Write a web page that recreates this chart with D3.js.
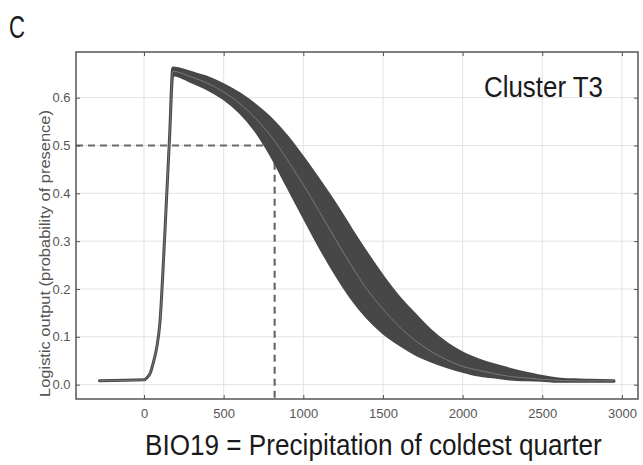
<!DOCTYPE html>
<html><head><meta charset="utf-8">
<script src="https://cdn.jsdelivr.net/npm/d3@7"></script>
<style>
html,body{margin:0;padding:0;background:#fff;}
svg{display:block;font-family:"Liberation Sans",Arial,sans-serif;}
</style></head>
<body><svg id="chart" width="643" height="465"></svg>
<script>
// ---- data ----
const xValues = [-280, 0, 20, 40, 60, 80, 100, 120, 140, 160, 181, 300, 400, 500, 600, 700, 800, 900, 1000, 1100, 1200, 1300, 1400, 1500, 1600, 1700, 1800, 1900, 2000, 2100, 2200, 2300, 2400, 2500, 2600, 2700, 2800, 2950];
const meanValues = [0.008, 0.01, 0.015, 0.025, 0.048, 0.078, 0.13, 0.245, 0.38, 0.515, 0.655, 0.643, 0.63, 0.612, 0.588, 0.557, 0.518, 0.47, 0.418, 0.362, 0.305, 0.25, 0.199, 0.158, 0.122, 0.093, 0.07, 0.052, 0.038, 0.03, 0.023, 0.017, 0.014, 0.011, 0.009, 0.008, 0.008, 0.008];
const upperValues = [0.008, 0.01, 0.015, 0.025, 0.048, 0.078, 0.13, 0.245, 0.38, 0.515, 0.662, 0.652, 0.642, 0.627, 0.608, 0.584, 0.555, 0.518, 0.474, 0.427, 0.378, 0.325, 0.274, 0.226, 0.183, 0.147, 0.113, 0.086, 0.066, 0.052, 0.041, 0.032, 0.024, 0.017, 0.012, 0.01, 0.009, 0.008];
const lowerValues = [0.008, 0.01, 0.015, 0.025, 0.048, 0.078, 0.13, 0.245, 0.38, 0.515, 0.648, 0.633, 0.618, 0.598, 0.57, 0.531, 0.478, 0.415, 0.352, 0.29, 0.233, 0.182, 0.141, 0.109, 0.085, 0.065, 0.05, 0.038, 0.028, 0.02, 0.016, 0.012, 0.01, 0.009, 0.007, 0.007, 0.007, 0.007];
const xTicks = [0, 500, 1000, 1500, 2000, 2500, 3000];
const yTicks = [0, 0.1, 0.2, 0.3, 0.4, 0.5, 0.6];
const thresholdX = 820;
const thresholdY = 0.5;
const panelLabel = "C";
const clusterLabel = "Cluster T3";
const xTitle = "BIO19 = Precipitation of coldest quarter";
const yTitle = "Logistic output (probability of presence)";

// ---- layout ----
const L = 76, R = 638, T = 52, B = 399;
const svg = d3.select("#chart");
const x = d3.scaleLinear().domain([-427, 3101]).range([L, R]);
const y = d3.scaleLinear().domain([-0.03, 0.6955]).range([B, T]);

const pts = xValues.map((v, i) => ({x: v, m: meanValues[i], u: upperValues[i], l: lowerValues[i]}));

// grid
const grid = svg.append("g").attr("stroke", "#e2e2e2").attr("stroke-width", 1);
grid.selectAll("line.v").data(xTicks).enter().append("line")
  .attr("x1", d => x(d)).attr("x2", d => x(d)).attr("y1", T).attr("y2", B);
grid.selectAll("line.h").data(yTicks).enter().append("line")
  .attr("y1", d => y(d)).attr("y2", d => y(d)).attr("x1", L).attr("x2", R);

// clip
svg.append("clipPath").attr("id", "clip").append("rect")
  .attr("x", L).attr("y", T).attr("width", R - L).attr("height", B - T);

const plot = svg.append("g").attr("clip-path", "url(#clip)");

// dashed threshold lines
plot.append("path")
  .attr("d", `M${L},${y(thresholdY)}H${x(thresholdX)}V${B}`)
  .attr("fill", "none").attr("stroke", "#6a6a6a").attr("stroke-width", 2.2)
  .attr("stroke-dasharray", "7,5");

// band
const area = d3.area().x(d => x(d.x)).y0(d => y(d.l)).y1(d => y(d.u)).curve(d3.curveMonotoneX);
plot.append("path").datum(pts).attr("d", area)
  .attr("fill", "#474747").attr("stroke", "#474747").attr("stroke-width", 3)
  .attr("stroke-linejoin", "round");

// mean line
const line = d3.line().x(d => x(d.x)).y(d => y(d.m)).curve(d3.curveMonotoneX);
plot.append("path").datum(pts).attr("d", line)
  .attr("fill", "none").attr("stroke", "#787878").attr("stroke-width", 1);

// axes
function styleAxis(g) {
  g.select(".domain").remove();
  g.selectAll(".tick line").attr("stroke", "#555");
  g.selectAll(".tick text").attr("fill", "#555").attr("font-size", "13px")
    .attr("font-family", "Liberation Sans, Arial, sans-serif");
}
svg.append("g").attr("transform", `translate(0,${B})`)
  .call(d3.axisBottom(x).tickValues(xTicks).tickSizeInner(-4).tickSizeOuter(0).tickPadding(10).tickFormat(d3.format("d")))
  .call(styleAxis);
svg.append("g").attr("transform", `translate(0,${T})`)
  .call(d3.axisTop(x).tickValues(xTicks).tickSizeInner(-4).tickSizeOuter(0).tickFormat(""))
  .call(styleAxis);
svg.append("g").attr("transform", `translate(${L},0)`)
  .call(d3.axisLeft(y).tickValues(yTicks).tickSizeInner(-4).tickSizeOuter(0).tickPadding(5.5).tickFormat(d3.format(".1f")))
  .call(styleAxis);
svg.append("g").attr("transform", `translate(${R},0)`)
  .call(d3.axisRight(y).tickValues(yTicks).tickSizeInner(-4).tickSizeOuter(0).tickFormat(""))
  .call(styleAxis);

// frame
svg.append("rect").attr("x", L).attr("y", T).attr("width", R - L).attr("height", B - T)
  .attr("fill", "none").attr("stroke", "#555").attr("stroke-width", 1.5);

// text fitted to a width by horizontal scaling (reference fonts look condensed)
function fittedText(str, px, py, size, width, color, rotate) {
  const t = svg.append("text").attr("font-size", size + "px").attr("fill", color).text(str);
  const natural = t.node().getComputedTextLength();
  const s = width / natural;
  if (rotate) {
    t.attr("text-anchor", "middle")
     .attr("transform", `translate(${px},${py}) rotate(-90) scale(${s},1)`);
  } else {
    t.attr("transform", `translate(${px},${py}) scale(${s},1)`);
  }
  return t;
}

fittedText(yTitle, 49.5, (110 + 397) / 2, 14, 287, "#555", true);
fittedText(xTitle, 145, 455, 30, 457, "#1a1a1a", false);
fittedText(clusterLabel, 484, 97, 29, 119, "#1a1a1a", false);
fittedText(panelLabel, 9, 38, 31, 16, "#1a1a1a", false);
</script>
</body></html>
